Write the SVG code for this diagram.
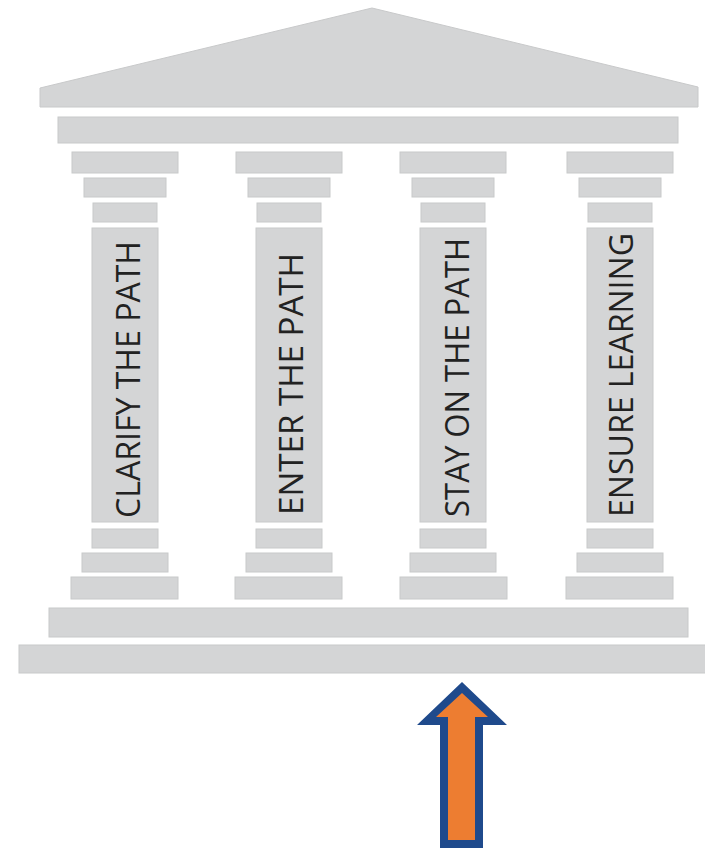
<svg xmlns="http://www.w3.org/2000/svg" width="705" height="852" viewBox="0 0 705 852">
<style>
.st{fill:#d4d5d6;stroke:#c8c9ca;stroke-width:1}
.lbl{font-family:"Open Sans","Liberation Sans",sans-serif;font-size:33px;fill:#222222}
</style>
<rect x="0" y="0" width="705" height="852" fill="#ffffff"/>
<g id="roof">
<polygon class="st" points="40,88 372,8 698,87 698,107 40,107"/>
<rect class="st" x="58" y="117" width="620" height="26"/>
</g>
<g id="pillar-clarify">
<rect class="st" x="72" y="152" width="106" height="21"/>
<rect class="st" x="84" y="178" width="82" height="19"/>
<rect class="st" x="93" y="203" width="64" height="19"/>
<rect class="st" x="92" y="228" width="66" height="294"/>
<rect class="st" x="92" y="529" width="66" height="19"/>
<rect class="st" x="82" y="553" width="86" height="19"/>
<rect class="st" x="71" y="577" width="107" height="22"/>
<text class="lbl" transform="translate(140,518) rotate(-90)" textLength="277" lengthAdjust="spacingAndGlyphs">CLARIFY THE PATH</text>
</g>
<g id="pillar-enter">
<rect class="st" x="236" y="152" width="106" height="21"/>
<rect class="st" x="248" y="178" width="82" height="19"/>
<rect class="st" x="257" y="203" width="64" height="19"/>
<rect class="st" x="256" y="228" width="66" height="294"/>
<rect class="st" x="256" y="529" width="66" height="19"/>
<rect class="st" x="246" y="553" width="86" height="19"/>
<rect class="st" x="235" y="577" width="107" height="22"/>
<text class="lbl" transform="translate(303,515) rotate(-90)" textLength="262" lengthAdjust="spacingAndGlyphs">ENTER THE PATH</text>
</g>
<g id="pillar-stay">
<rect class="st" x="400" y="152" width="106" height="21"/>
<rect class="st" x="412" y="178" width="82" height="19"/>
<rect class="st" x="421" y="203" width="64" height="19"/>
<rect class="st" x="420" y="228" width="66" height="294"/>
<rect class="st" x="420" y="529" width="66" height="19"/>
<rect class="st" x="410" y="553" width="86" height="19"/>
<rect class="st" x="400" y="577" width="107" height="22"/>
<text class="lbl" transform="translate(469,517) rotate(-90)" textLength="279" lengthAdjust="spacingAndGlyphs">STAY ON THE PATH</text>
</g>
<g id="pillar-ensure">
<rect class="st" x="567" y="152" width="106" height="21"/>
<rect class="st" x="579" y="178" width="82" height="19"/>
<rect class="st" x="588" y="203" width="64" height="19"/>
<rect class="st" x="587" y="228" width="66" height="294"/>
<rect class="st" x="587" y="529" width="66" height="19"/>
<rect class="st" x="577" y="553" width="86" height="19"/>
<rect class="st" x="566" y="577" width="107" height="22"/>
<text class="lbl" transform="translate(633,517) rotate(-90)" textLength="284" lengthAdjust="spacingAndGlyphs">ENSURE LEARNING</text>
</g>
<g id="base">
<rect class="st" x="49" y="608" width="639" height="29"/>
<rect class="st" x="19" y="645" width="690" height="28"/>
</g>
<g id="arrow">
<polygon fill="#1f4a8c" points="462,682 417,725 440,725 440,848 483,848 483,725 507,725"/>
<polygon fill="#ed7d31" points="462,693 436,717 448,717 448,840 475,840 475,717 488,717"/>
</g>
</svg>
